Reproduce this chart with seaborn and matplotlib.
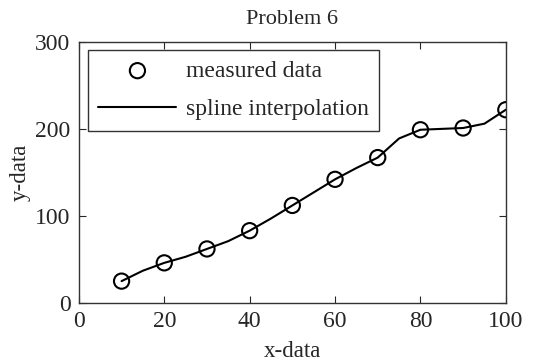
import numpy as np
import pandas as pd
import matplotlib
matplotlib.use("Agg")
import matplotlib.pyplot as plt
import seaborn as sns

# measured points
x_meas = [10, 20, 30, 40, 50, 60, 70, 80, 90, 100]
y_meas = [25, 46, 62, 83, 112, 142, 167, 199, 201, 222]

# spline curve
x_spl = [10, 15, 20, 25, 30, 35, 40, 45, 50, 55, 60, 65, 70, 75, 80, 85, 90, 95, 100]
y_spl = [25, 37, 46, 53, 62, 71, 83, 97, 112, 127, 142, 155, 167, 189, 199, 200, 201, 206, 222]

x_ticks = [0, 20, 40, 60, 80, 100]
y_ticks = [0, 100, 200, 300]

sns.set_style("ticks")
plt.rcParams['font.family'] = ['Liberation Serif', 'DejaVu Serif']

meas = pd.DataFrame({"x": x_meas, "y": y_meas})
spl = pd.DataFrame({"x": x_spl, "y": y_spl})

fig, ax = plt.subplots(figsize=(5.33, 3.61), dpi=100)
fig.subplots_adjust(left=0.148, right=0.949, top=0.884, bottom=0.161)

sns.scatterplot(data=meas, x="x", y="y", ax=ax, s=120, facecolors="none",
                edgecolor="black", linewidth=1.5, label="measured data", zorder=3)
sns.lineplot(data=spl, x="x", y="y", ax=ax, color="black", linewidth=1.5,
             label="spline interpolation")

ax.set_xlim(0, 100)
ax.set_ylim(0, 300)
ax.set_xticks(x_ticks)
ax.set_yticks(y_ticks)
ax.tick_params(direction="in", top=True, right=True, labelsize=17, length=5, width=0.8, pad=6)
for s in ax.spines.values():
    s.set_linewidth(1.0)
    s.set_color("#333333")

ax.set_title("Problem 6", fontsize=16, pad=13)
ax.set_xlabel("x-data", fontsize=16.5, labelpad=6)
ax.set_ylabel("y-data", fontsize=16.5, labelpad=3)

leg = ax.legend(loc="upper left", bbox_to_anchor=(0.021, 0.97), borderaxespad=0,
                fontsize=17, handlelength=3.3, fancybox=False,
                edgecolor="#333333", framealpha=1,
                labelspacing=0.7, handletextpad=0.4, borderpad=0.45)
leg.get_frame().set_linewidth(1.0)

fig.savefig("out.png", dpi=100)
